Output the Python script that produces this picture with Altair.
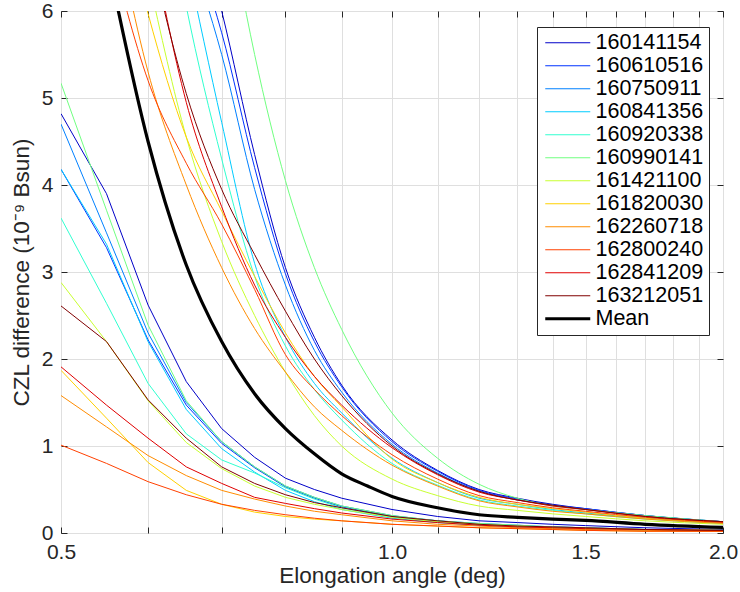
import altair as alt
import pandas as pd

# Elongation angles (deg) at which the curves are sampled
X = [0.5, 0.55, 0.6, 0.65, 0.7, 0.75, 0.8, 0.85, 0.9, 1.0, 1.1, 1.2, 1.3, 1.4, 1.5, 1.7, 2.0]
MEAN_X = [0.55, 0.6, 0.65, 0.7, 0.75, 0.8, 0.85, 0.9, 0.95, 1.0, 1.1, 1.2, 1.3, 1.4, 1.5, 1.7, 2.0]

EVENTS = ["160141154", "160610516", "160750911", "160841356", "160920338", "160990141",
          "161421100", "161820030", "162260718", "162800240", "162841209", "163212051"]
COLORS = ["#0000c8", "#0033ff", "#0080ff", "#00ccff", "#30ffd0", "#70ff80",
          "#c8ff30", "#ffd000", "#ff8c00", "#ff4000", "#e00000", "#800000"]

# lower branch of each event
LOWER = {
    "160141154": [4.82, 3.90, 2.62, 1.74, 1.20, 0.87, 0.63, 0.50, 0.40, 0.27, 0.19, 0.14, 0.12, 0.10, 0.085, 0.06, 0.04],
    "160610516": [4.18, 3.28, 2.22, 1.47, 1.03, 0.75, 0.53, 0.40, 0.30, 0.19, 0.14, 0.10, 0.08, 0.07, 0.06, 0.04, 0.03],
    "160750911": [4.70, 3.45, 2.30, 1.50, 1.05, 0.76, 0.54, 0.41, 0.31, 0.20, 0.14, 0.11, 0.09, 0.07, 0.06, 0.04, 0.03],
    "160841356": [4.18, 3.32, 2.20, 1.42, 0.97, 0.70, 0.49, 0.36, 0.27, 0.17, 0.12, 0.09, 0.07, 0.06, 0.05, 0.03, 0.02],
    "160920338": [3.62, 2.64, 1.72, 1.14, 0.84, 0.69, 0.52, 0.39, 0.29, 0.18, 0.13, 0.10, 0.08, 0.06, 0.05, 0.04, 0.03],
    "160990141": [5.17, 3.71, 2.39, 1.52, 1.05, 0.76, 0.54, 0.41, 0.31, 0.20, 0.14, 0.11, 0.09, 0.07, 0.06, 0.04, 0.03],
    "161421100": [2.88, 2.20, 1.52, 1.04, 0.74, 0.54, 0.41, 0.33, 0.27, 0.18, 0.13, 0.10, 0.08, 0.06, 0.05, 0.04, 0.03],
    "161820030": [1.87, 1.32, 0.81, 0.49, 0.33, 0.24, 0.19, 0.16, 0.14, 0.10, 0.08, 0.06, 0.05, 0.04, 0.03, 0.02, 0.02],
    "162260718": [1.58, 1.22, 0.89, 0.66, 0.49, 0.39, 0.31, 0.25, 0.21, 0.14, 0.10, 0.08, 0.06, 0.05, 0.04, 0.03, 0.02],
    "162800240": [1.01, 0.80, 0.59, 0.44, 0.33, 0.26, 0.21, 0.17, 0.14, 0.10, 0.08, 0.06, 0.05, 0.04, 0.03, 0.02, 0.02],
    "162841209": [1.91, 1.47, 1.09, 0.76, 0.57, 0.41, 0.34, 0.28, 0.23, 0.16, 0.12, 0.09, 0.07, 0.06, 0.05, 0.04, 0.03],
    "163212051": [2.61, 2.20, 1.53, 1.09, 0.76, 0.57, 0.44, 0.35, 0.29, 0.19, 0.14, 0.10, 0.08, 0.07, 0.06, 0.04, 0.03],
}

# upper branch of each event (None: above the plotted range, not drawn)
UPPER = {
    "160141154": [None, None, None, 7.5, 6.0, 4.35, 3.05, 2.25, 1.70, 1.07, 0.72, 0.50, 0.40, 0.33, 0.28, 0.20, 0.13],
    "160610516": [None, None, None, 7.0, 5.75, 4.2, 2.98, 2.2, 1.68, 1.05, 0.71, 0.49, 0.39, 0.32, 0.28, 0.20, 0.13],
    "160750911": [None, None, None, 6.8, 5.5, 3.95, 2.85, 2.1, 1.62, 1.02, 0.69, 0.48, 0.38, 0.32, 0.27, 0.20, 0.13],
    "160841356": [None, None, None, 6.6, 4.72, 3.1, 2.25, 1.72, 1.38, 0.86, 0.58, 0.40, 0.33, 0.27, 0.23, 0.17, 0.115],
    "160920338": [None, None, 8.5, 6.05, 4.3, 2.95, 2.15, 1.65, 1.30, 0.80, 0.55, 0.38, 0.31, 0.26, 0.22, 0.16, 0.11],
    "160990141": [None, None, None, None, 7.5, 5.5, 4.05, 3.05, 2.34, 1.38, 0.86, 0.56, 0.40, 0.31, 0.27, 0.20, 0.13],
    "161421100": [None, None, 6.4, 4.55, 3.35, 2.5, 1.85, 1.35, 1.0, 0.62, 0.43, 0.31, 0.26, 0.22, 0.19, 0.14, 0.10],
    "161820030": [None, 8.0, 5.97, 4.55, 3.7, 2.95, 2.3, 1.8, 1.45, 0.85, 0.58, 0.41, 0.33, 0.28, 0.24, 0.17, 0.12],
    "162260718": [None, 7.5, 5.3, 4.0, 3.05, 2.35, 1.85, 1.45, 1.18, 0.78, 0.54, 0.37, 0.30, 0.25, 0.22, 0.16, 0.11],
    "162800240": [None, 6.9, 5.2, 4.25, 3.55, 2.8, 2.05, 1.65, 1.35, 0.90, 0.62, 0.43, 0.35, 0.29, 0.25, 0.18, 0.12],
    "162841209": [None, None, 7.0, 4.95, 3.75, 2.85, 2.25, 1.8, 1.47, 0.98, 0.67, 0.47, 0.38, 0.31, 0.27, 0.19, 0.13],
    "163212051": [None, None, 6.8, 5.05, 3.95, 3.2, 2.55, 2.0, 1.58, 1.0, 0.68, 0.48, 0.38, 0.32, 0.27, 0.19, 0.13],
}

MEAN = [6.65, 4.5, 3.08, 2.2, 1.6, 1.2, 0.91, 0.68, 0.54, 0.42, 0.29, 0.21, 0.18, 0.16, 0.145, 0.10, 0.065]

X_TICKS = [0.5, 0.6, 0.7, 0.8, 0.9, 1.0, 1.1, 1.2, 1.3, 1.4, 1.5, 1.6, 1.7, 1.8, 1.9, 2.0]
X_LABELS = ["0.5", "1.0", "1.5", "2.0"]
Y_TICKS = [0, 1, 2, 3, 4, 5, 6]

LEGEND_DOMAIN = EVENTS + ["Mean"]
LEGEND_COLORS = COLORS + ["#000000"]


def to_frame(table, branch):
    rows = []
    for ev in EVENTS:
        for xv, yv in zip(X, table[ev]):
            if yv is not None:
                rows.append({"x": xv, "y": yv, "series": ev, "branch": branch})
    return pd.DataFrame(rows)


lower_df = to_frame(LOWER, "lower")
upper_df = to_frame(UPPER, "upper")
mean_df = pd.DataFrame({"x": MEAN_X, "y": MEAN, "series": "Mean", "branch": "mean"})

FONT = "Liberation Sans"
TXT = "#262626"
W, H = 662, 522

xscale = alt.Scale(type="log", domain=[0.5, 2.0], nice=False)
yscale = alt.Scale(domain=[0, 6], nice=False, zero=False)

legend = alt.Legend(
    title=None, orient="none", legendX=476, legendY=16,
    fillColor="white", strokeColor=TXT, padding=5,
    labelFontSize=21.5, labelFont=FONT, labelColor="#000000", labelLimit=300,
    symbolType="M-3,0H3", symbolSize=225, symbolOffset=15, labelOffset=17,
    rowPadding=0,
    symbolStrokeWidth=alt.ExprRef(expr="datum.value === 'Mean' ? 3.2 : 1"),
)
color = alt.Color("series:N", scale=alt.Scale(domain=LEGEND_DOMAIN, range=LEGEND_COLORS), legend=legend)

label_expr = "indexof(" + str(X_LABELS) + ", datum.label) >= 0 ? datum.label : ''"

x_main = alt.X("x:Q", scale=xscale, axis=alt.Axis(
    values=X_TICKS, format=".1f", labelExpr=label_expr, labelFlush=False, labelOverlap=False,
    grid=True, gridColor="#dfdfdf", ticks=False, domain=False,
    labelFontSize=21, labelColor=TXT, labelPadding=8,
    title="Elongation angle (deg)", titleFontSize=22.5, titleFontWeight="normal", titleColor=TXT, titlePadding=2))
y_main = alt.Y("y:Q", scale=yscale, axis=alt.Axis(
    values=Y_TICKS, grid=True, gridColor="#dfdfdf", ticks=False, domain=False,
    labelFontSize=21, labelColor=TXT, labelPadding=8,
    title="CZL difference (10⁻⁹ Bsun)", titleFontSize=22.5, titleFontWeight="normal", titleColor=TXT, titlePadding=8))

x_plain = alt.X("x:Q", scale=xscale, axis=None)
y_plain = alt.Y("y:Q", scale=yscale, axis=None)

lower_lines = alt.Chart(lower_df).mark_line(clip=True, strokeWidth=1).encode(
    x=x_main, y=y_main, color=color, detail="branch:N"
)
upper_lines = alt.Chart(upper_df).mark_line(clip=True, strokeWidth=1, interpolate="monotone").encode(
    x=x_plain, y=y_plain, color=color, detail="branch:N"
)
mean_line = alt.Chart(mean_df).mark_line(clip=True, strokeWidth=3.2, interpolate="monotone").encode(
    x=x_plain, y=y_plain, color=color,
)


def tick_axis(orient, offset, values):
    return alt.Axis(orient=orient, offset=offset, values=values, labels=False, grid=False, domain=False,
                    ticks=True, tickSize=6, tickColor=TXT, tickWidth=1, title=None)


ticks_a = alt.Chart(mean_df).mark_point(opacity=0, clip=True).encode(
    x=alt.X("x:Q", scale=xscale, axis=tick_axis("top", -H, X_TICKS)),
    y=alt.Y("y:Q", scale=yscale, axis=tick_axis("right", -W, Y_TICKS)),
)
ticks_b = alt.Chart(mean_df).mark_point(opacity=0, clip=True).encode(
    x=alt.X("x:Q", scale=xscale, axis=tick_axis("bottom", -H, X_TICKS)),
    y=alt.Y("y:Q", scale=yscale, axis=tick_axis("left", -W, Y_TICKS)),
)

chart = alt.layer(lower_lines, upper_lines, mean_line, ticks_a, ticks_b).resolve_axis(
    x="independent", y="independent"
).properties(
    width=W, height=H,
    autosize=alt.AutoSizeParams(type="none"),
    padding={"left": 61, "top": 11, "right": 17, "bottom": 59},
).configure(font=FONT).configure_view(stroke=TXT, strokeWidth=1)

chart.save("out.html", embed_options={"renderer": "svg", "actions": False})
